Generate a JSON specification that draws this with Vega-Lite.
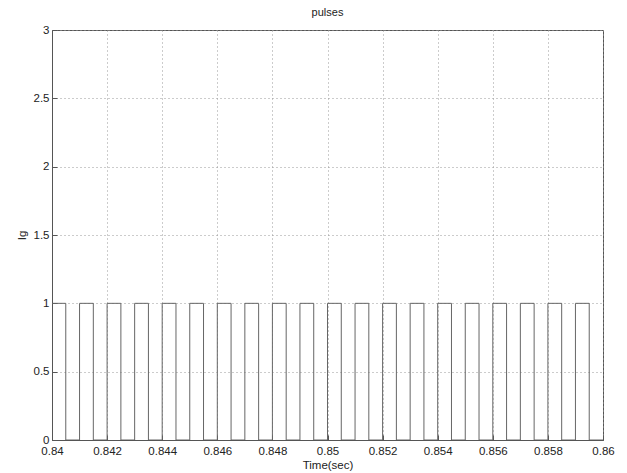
{
  "$schema": "https://vega.github.io/schema/vega-lite/v6.json",
  "autosize": "none",
  "width": 551,
  "height": 410,
  "padding": {"left": 52, "top": 30, "right": 24, "bottom": 33},
  "background": "white",
  "title": {"text": "pulses", "fontSize": 11, "font": "Liberation Sans", "fontWeight": "normal", "color": "#222", "offset": 6},
  "config": {
    "view": {"stroke": "#555", "strokeWidth": 1},
    "axis": {
      "labelFont": "Liberation Sans",
      "labelFontSize": 11.5,
      "labelColor": "#222",
      "titleFont": "Liberation Sans",
      "titleFontSize": 11.5,
      "titleFontWeight": "normal",
      "titleColor": "#222",
      "domainColor": "#555",
      "tickColor": "#555",
      "tickSize": -5,
      "gridColor": "#999",
      "gridDash": [1, 3],
      "gridWidth": 1
    }
  },
  "data": {
    "values": [
      {"t": 0.8400, "ig": 1}, {"t": 0.8405, "ig": 0},
      {"t": 0.8410, "ig": 1}, {"t": 0.8415, "ig": 0},
      {"t": 0.8420, "ig": 1}, {"t": 0.8425, "ig": 0},
      {"t": 0.8430, "ig": 1}, {"t": 0.8435, "ig": 0},
      {"t": 0.8440, "ig": 1}, {"t": 0.8445, "ig": 0},
      {"t": 0.8450, "ig": 1}, {"t": 0.8455, "ig": 0},
      {"t": 0.8460, "ig": 1}, {"t": 0.8465, "ig": 0},
      {"t": 0.8470, "ig": 1}, {"t": 0.8475, "ig": 0},
      {"t": 0.8480, "ig": 1}, {"t": 0.8485, "ig": 0},
      {"t": 0.8490, "ig": 1}, {"t": 0.8495, "ig": 0},
      {"t": 0.8500, "ig": 1}, {"t": 0.8505, "ig": 0},
      {"t": 0.8510, "ig": 1}, {"t": 0.8515, "ig": 0},
      {"t": 0.8520, "ig": 1}, {"t": 0.8525, "ig": 0},
      {"t": 0.8530, "ig": 1}, {"t": 0.8535, "ig": 0},
      {"t": 0.8540, "ig": 1}, {"t": 0.8545, "ig": 0},
      {"t": 0.8550, "ig": 1}, {"t": 0.8555, "ig": 0},
      {"t": 0.8560, "ig": 1}, {"t": 0.8565, "ig": 0},
      {"t": 0.8570, "ig": 1}, {"t": 0.8575, "ig": 0},
      {"t": 0.8580, "ig": 1}, {"t": 0.8585, "ig": 0},
      {"t": 0.8590, "ig": 1}, {"t": 0.8595, "ig": 0},
      {"t": 0.8600, "ig": 0}
    ]
  },
  "mark": {"type": "line", "interpolate": "step-after", "color": "#666", "strokeWidth": 1, "clip": true},
  "encoding": {
    "x": {
      "field": "t", "type": "quantitative",
      "scale": {"domain": [0.84, 0.86], "nice": false, "zero": false},
      "axis": {
        "title": "Time(sec)", "titlePadding": 3,
        "values": [0.84, 0.842, 0.844, 0.846, 0.848, 0.85, 0.852, 0.854, 0.856, 0.858, 0.86],
        "labelExpr": "'' + datum.value",
        "labelPadding": 10,
        "labelFlush": false
      }
    },
    "y": {
      "field": "ig", "type": "quantitative",
      "scale": {"domain": [0, 3], "nice": false},
      "axis": {
        "title": "Ig", "titlePadding": 6,
        "values": [0, 0.5, 1, 1.5, 2, 2.5, 3],
        "labelExpr": "'' + datum.value",
        "labelPadding": 8,
        "labelFlush": false,
        "encode": {"labels": {"update": {"dy": {"signal": "datum.value === 0 ? -3 : 0"}}}}
      }
    }
  }
}
